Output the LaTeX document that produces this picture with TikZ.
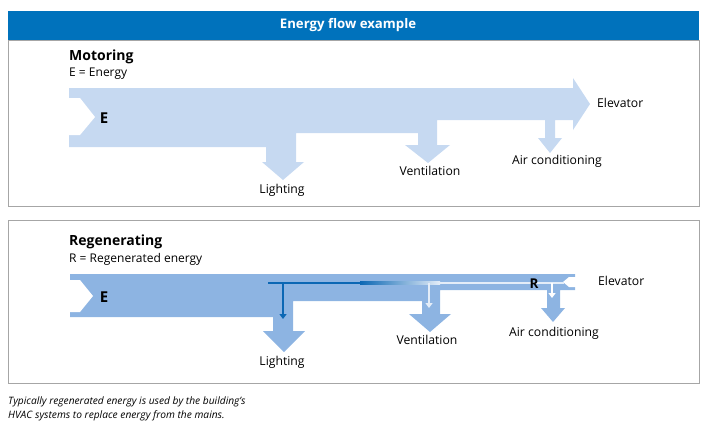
\documentclass[tikz,border=0pt]{standalone}
\usepackage{fontspec}
\setmainfont{Open Sans}
\usetikzlibrary{arrows.meta}
\definecolor{barblue}{HTML}{0072BC}
\definecolor{motorblue}{HTML}{C6D9F1}
\definecolor{regenblue}{HTML}{8DB4E2}
\definecolor{darkflow}{HTML}{0B67B4}
\definecolor{paleflow}{HTML}{E4EDF8}
\definecolor{framegray}{HTML}{A6A6A6}

\begin{document}
\begin{tikzpicture}[x=1pt, y=-1pt,
  panel/.style={draw=framegray, line width=0.8pt},
  heading/.style={font=\fontsize{14}{16}\selectfont\bfseries, anchor=west, inner sep=0pt},
  legend/.style={font=\fontsize{12}{14}\selectfont, anchor=west, inner sep=0pt},
  label/.style={font=\fontsize{12.2}{14}\selectfont, inner sep=0pt},
  flowletter/.style={font=\fontsize{15}{17}\selectfont\bfseries, inner sep=0pt},
  note/.style={font=\fontsize{10.2}{12}\selectfont\itshape, anchor=west, inner sep=0pt},
  subflow/.style={line width=2.6pt, -{Triangle[width=7pt, length=5pt]}}]
\useasboundingbox (0,0) rectangle (706,426);

% title and frames
\fill[barblue] (8,11) rectangle (699,40);
\node[font=\fontsize{13.2}{15}\selectfont\bfseries, text=white] (title) at (348,25) {Energy flow example};
\draw[panel] (8,40) rectangle (699,206);
\draw[panel] (8,220) rectangle (699,383);

% motoring
\node[heading] (mot) at (69,57) {Motoring};
\node[legend] (motkey) at (69,74) {E = Energy};
\fill[motorblue] (69,88) -- (573,88) -- (573,78) -- (590,104) -- (573,130) -- (573,120)
  -- (555,120) -- (555,138) -- (562,138) -- (550,153) -- (538,138) -- (545,138) -- (545,120)
  -- (437,120) -- (437,145) -- (450,145) -- (428,163) -- (405,145) -- (418,145) -- (418,133)
  -- (296,133) -- (296,162) -- (304,162) -- (283,180) -- (262,162) -- (266,162) -- (266,147)
  -- (69,147) -- cycle;
\fill[white] (69,98) -- (80,98) -- (95,117) -- (80,135) -- (69,135) -- cycle;
\node[flowletter] (motE) at (104,118) {E};
\node[label, anchor=west] (motelev) at (597,103) {Elevator};
\node[label] (motlight) at (282,190) {Lighting};
\node[label] (motvent) at (430,171) {Ventilation};
\node[label] (motac) at (557,161) {Air conditioning};

% regenerating
\node[heading] (reg) at (69,242) {Regenerating};
\node[legend] (regkey) at (69,259) {R = Regenerated energy};
\fill[regenblue] (70,274) -- (575,274) -- (575,290)
  -- (560,290) -- (560,308) -- (565,308) -- (553,322) -- (541,308) -- (547,308) -- (547,290)
  -- (440,290) -- (440,314) -- (451,314) -- (430,332) -- (409,314) -- (422,314) -- (422,301)
  -- (293,301) -- (293,331) -- (305,331) -- (284,352) -- (263,331) -- (273,331) -- (273,317)
  -- (70,317) -- cycle;
\fill[white] (70,280) -- (80,280) -- (93,296) -- (80,312) -- (70,312) -- cycle;
\fill[white] (576,277) -- (569,277) -- (563,282) -- (569,287) -- (576,287) -- cycle;

\coordinate (rstart) at (268,283);
\coordinate (rfadeA) at (360,283);
\coordinate (rfadeB) at (440,283);
\coordinate (rend) at (564,283);
\draw[darkflow, line width=2.6pt] (rstart) -- (rfadeA);
\shade[left color=darkflow, right color=paleflow] (360,281.7) rectangle (440,284.3);
\draw[paleflow, line width=2.6pt] (rfadeB) -- (rend);

\coordinate (rlight) at (283,283);
\coordinate (rlightend) at (283,319);
\coordinate (rvent) at (429,283);
\coordinate (rventend) at (429,308);
\coordinate (rac) at (552,283);
\coordinate (racend) at (552,298);
\draw[subflow, darkflow] (rlight) -- (rlightend);
\draw[subflow, paleflow] (rvent) -- (rventend);
\draw[subflow, white] (rac) -- (racend);

\node[flowletter] (regE) at (104,297) {E};
\node[flowletter, font=\fontsize{13.5}{15}\selectfont\bfseries] (regR) at (534,284) {R};
\node[label, anchor=west] (regelev) at (598,281) {Elevator};
\node[label] (reglight) at (282,362) {Lighting};
\node[label] (regvent) at (427,340) {Ventilation};
\node[label] (regac) at (554,333) {Air conditioning};

% footnote
\node[note] (note1) at (8,402) {Typically regenerated energy is used by the building’s};
\node[note] (note2) at (8,416) {HVAC systems to replace energy from the mains.};
\end{tikzpicture}
\end{document}
